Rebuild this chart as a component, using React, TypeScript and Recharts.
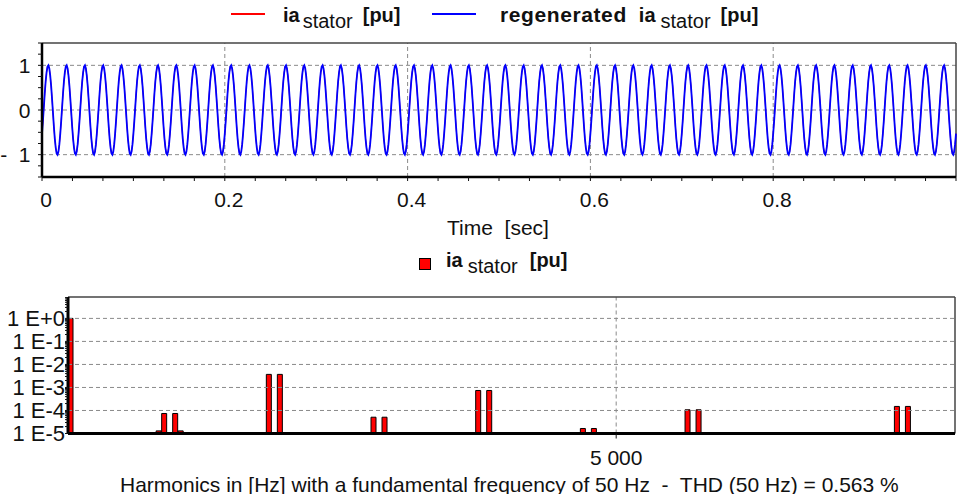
import React from 'react';
import { LineChart, Line, BarChart, Bar, XAxis, YAxis, ReferenceLine } from 'recharts';

const FONT = '"Liberation Sans", Arial, Helvetica, sans-serif';

const samplePeriodSec = 0.001;
const cyclesShown = 50;
const iaStatorCycle = [-0.53, -0.25, 0.06, 0.37, 0.64, 0.84, 0.97, 1.0, 0.93, 0.77, 0.54, 0.25, -0.06, -0.37, -0.64, -0.84, -0.97, -1.0, -0.93, -0.77];
const regeneratedCycle = [-0.53, -0.25, 0.06, 0.37, 0.64, 0.84, 0.97, 1.0, 0.93, 0.77, 0.54, 0.25, -0.06, -0.37, -0.64, -0.84, -0.97, -1.0, -0.93, -0.77];

const timeMajorTicks = [0, 0.2, 0.4, 0.6, 0.8];
const timeTickLabels = ['0', '0.2', '0.4', '0.6', '0.8'];
const timeMinorStep = 1 / 30;
const puMajorTicks = [-1, 0, 1];
const puTickLabels = ['-\u00A0\u00A01', '0', '1'];
const puMinorStep = 0.25;

// ---------- Harmonic spectrum ----------
const harmonicFreqsHz = [50, 850, 900, 1000, 1050, 1850, 1950, 2800, 2900, 3750, 3850, 4700, 4800, 5650, 5750, 7550, 7650];
const harmonicMagsPu = [1, 1.3e-5, 7.4e-5, 7.4e-5, 1.3e-5, 3.7e-3, 3.7e-3, 5.1e-5, 5.1e-5, 7.4e-4, 7.4e-4, 1.65e-5, 1.65e-5, 1.07e-4, 1.07e-4, 1.5e-4, 1.5e-4];
const magMajorTicks = [1e-5, 1e-4, 1e-3, 1e-2, 1e-1, 1];
const magTickLabels = ['1 E-5', '1 E-4', '1 E-3', '1 E-2', '1 E-1', '1 E+0'];
const freqTicks = [5000];
const freqTickLabels = ['5 000'];

// ---------- Tables built from the arrays ----------
const timeData: { t: number; ia: number; regen: number }[] = [];
for (let c = 0; c < cyclesShown; c++) {
  for (let k = 0; k < iaStatorCycle.length; k++) {
    timeData.push({
      t: (c * iaStatorCycle.length + k) * samplePeriodSec,
      ia: iaStatorCycle[k],
      regen: regeneratedCycle[k],
    });
  }
}
timeData.push({ t: cyclesShown * iaStatorCycle.length * samplePeriodSec, ia: iaStatorCycle[0], regen: regeneratedCycle[0] });

const harmonicData = harmonicFreqsHz.map((f, i) => ({ f, mag: harmonicMagsPu[i] }));

const timeAllTicks: number[] = [];
for (let k = 0; k <= 30; k++) timeAllTicks.push(k * timeMinorStep);
const puAllTicks: number[] = [];
for (let k = -6; k <= 6; k++) puAllTicks.push(k * puMinorStep);
const magAllTicks: number[] = [];
magMajorTicks.forEach((d, i) => {
  magAllTicks.push(d);
  if (i < magMajorTicks.length - 1) for (let m = 2; m <= 9; m++) magAllTicks.push(d * m);
});
for (let m = 2; m <= 8; m++) magAllTicks.push(m);

const findIdx = (arr: number[], v: number) => arr.findIndex((a) => Math.abs(a - v) < 1e-9);

const TopXTick = (props: any) => {
  const { x, payload } = props;
  const i = findIdx(timeMajorTicks, payload.value);
  if (i < 0) return <g />;
  return (
    <text x={x + 4} y={207} textAnchor="middle" fontSize={21} fontFamily={FONT} fill="#111">
      {timeTickLabels[i]}
    </text>
  );
};

const TopYTick = (props: any) => {
  const { y, payload } = props;
  const i = findIdx(puMajorTicks, payload.value);
  if (i < 0) return <g />;
  return (
    <text x={30.5} y={y + 7.5} textAnchor="end" fontSize={21} fontFamily={FONT} fill="#111" style={{ whiteSpace: 'pre' }}>
      {puTickLabels[i]}
    </text>
  );
};

const BottomXTick = (props: any) => {
  const { x, payload } = props;
  const i = findIdx(freqTicks, payload.value);
  if (i < 0) return <g />;
  return (
    <text x={x} y={225} textAnchor="middle" fontSize={21} fontFamily={FONT} fill="#111">
      {freqTickLabels[i]}
    </text>
  );
};

const BottomYTick = (props: any) => {
  const { y, payload } = props;
  const i = magMajorTicks.findIndex((a) => Math.abs(a - payload.value) / a < 1e-6);
  if (i < 0) return <g />;
  return (
    <text x={65} y={y + 7.5} textAnchor="end" fontSize={22} fontFamily={FONT} fill="#111">
      {magTickLabels[i]}
    </text>
  );
};

const gridStyle = { stroke: '#8a8a8a', strokeDasharray: '4 3', strokeWidth: 1 };

const abs = (left: number, top: number): React.CSSProperties => ({ position: 'absolute', left, top, whiteSpace: 'pre' });

export default function App() {
  return (
    <div style={{ position: 'absolute', left: 0, top: 0, width: 957, height: 494, background: '#fff', fontFamily: FONT, color: '#111', overflow: 'hidden' }}>
      {/* Top legend */}
      <div style={{ ...abs(231, 13), width: 34, height: 1.5, background: '#ff0000' }} />
      <div style={{ ...abs(283, 5), fontSize: 20, lineHeight: '20px' }}>
        <span style={{ fontWeight: 'bold' }}>ia</span>
        <span style={{ position: 'relative', top: 6, marginLeft: 3 }}>stator</span>
        <span style={{ fontWeight: 'bold', marginLeft: 10 }}>[pu]</span>
      </div>
      <div style={{ ...abs(432, 13), width: 44, height: 1.5, background: '#0000ff' }} />
      <div style={{ ...abs(500, 5), fontSize: 20, lineHeight: '20px' }}>
        <span style={{ fontWeight: 'bold', fontSize: 21, letterSpacing: 0.6 }}>regenerated</span>
        <span style={{ fontWeight: 'bold', marginLeft: 12 }}>ia</span>
        <span style={{ position: 'relative', top: 6, marginLeft: 5 }}>stator</span>
        <span style={{ fontWeight: 'bold', marginLeft: 10 }}>[pu]</span>
      </div>

      {/* Top chart */}
      <div style={{ position: 'absolute', left: 0, top: 0 }}>
        <LineChart width={957} height={240} data={timeData} margin={{ top: 43, right: 1, bottom: 0, left: 0 }}>
          <XAxis
            dataKey="t"
            type="number"
            domain={[0, 1]}
            ticks={timeAllTicks}
            interval={0}
            height={63}
            tickSize={4}
            tickLine={{ stroke: '#111', strokeWidth: 1 }}
            axisLine={{ stroke: '#000', strokeWidth: 2.5 }}
            tick={TopXTick}
          />
          <YAxis
            type="number"
            domain={[-1.5, 1.5]}
            ticks={puAllTicks}
            interval={0}
            width={42}
            tickSize={4}
            tickLine={{ stroke: '#111', strokeWidth: 1 }}
            axisLine={{ stroke: '#000', strokeWidth: 2.5 }}
            tick={TopYTick}
          />
          {puMajorTicks.map((v) => (
            <ReferenceLine key={'py' + v} y={v} {...gridStyle} />
          ))}
          {timeMajorTicks.filter((v) => v > 0).map((v) => (
            <ReferenceLine key={'px' + v} x={v} {...gridStyle} />
          ))}
          <ReferenceLine y={1.5} stroke="#444" strokeWidth={1.5} />
          <ReferenceLine x={1} stroke="#444" strokeWidth={1.5} />
          <Line dataKey="ia" type="linear" stroke="#ff0000" strokeWidth={1} dot={false} isAnimationActive={false} />
          <Line dataKey="regen" type="linear" stroke="#0000ff" strokeWidth={1.8} dot={false} isAnimationActive={false} />
        </LineChart>
      </div>

      <div style={{ ...abs(447, 216.5), fontSize: 21, lineHeight: '21px' }}>{'Time  [sec]'}</div>

      {/* Bottom legend */}
      <div style={{ ...abs(419, 258), width: 10, height: 10, background: '#ff0000', border: '1px solid #000' }} />
      <div style={{ ...abs(446, 250), fontSize: 20, lineHeight: '20px' }}>
        <span style={{ fontWeight: 'bold' }}>ia</span>
        <span style={{ position: 'relative', top: 6, marginLeft: 5 }}>stator</span>
        <span style={{ fontWeight: 'bold', marginLeft: 12 }}>[pu]</span>
      </div>

      {/* Bottom chart */}
      <div style={{ position: 'absolute', left: 0, top: 240 }}>
        <BarChart width={957} height={254} data={harmonicData} margin={{ top: 57, right: 2, bottom: 0, left: 0 }}>
          <XAxis
            dataKey="f"
            type="number"
            domain={[25, 8075]}
            ticks={freqTicks}
            interval={0}
            height={60.5}
            tickSize={5}
            tickLine={{ stroke: '#111', strokeWidth: 1 }}
            axisLine={{ stroke: '#000', strokeWidth: 3 }}
            tick={BottomXTick}
          />
          <YAxis
            type="number"
            scale="log"
            domain={[1e-5, 8.5]}
            allowDataOverflow
            ticks={magAllTicks}
            interval={0}
            width={68}
            tickSize={3}
            tickLine={{ stroke: '#111', strokeWidth: 1 }}
            axisLine={{ stroke: '#000', strokeWidth: 3 }}
            tick={BottomYTick}
          />
          {magMajorTicks.filter((v) => v > 1e-5).map((v) => (
            <ReferenceLine key={'my' + v} y={v} {...gridStyle} />
          ))}
          {freqTicks.map((v) => (
            <ReferenceLine key={'fx' + v} x={v} {...gridStyle} />
          ))}
          <ReferenceLine y={8.5} stroke="#444" strokeWidth={1.5} />
          <ReferenceLine x={8075} stroke="#444" strokeWidth={1.5} />
          <Bar dataKey="mag" barSize={5} fill="#ff0000" stroke="#000" strokeWidth={1} isAnimationActive={false} />
        </BarChart>
      </div>

      <div style={{ ...abs(120, 473.5), fontSize: 21, lineHeight: '21px' }}>
        {'Harmonics in [Hz] with a fundamental frequency of 50 Hz  -  THD (50 Hz) = 0.563 %'}
      </div>
    </div>
  );
}
